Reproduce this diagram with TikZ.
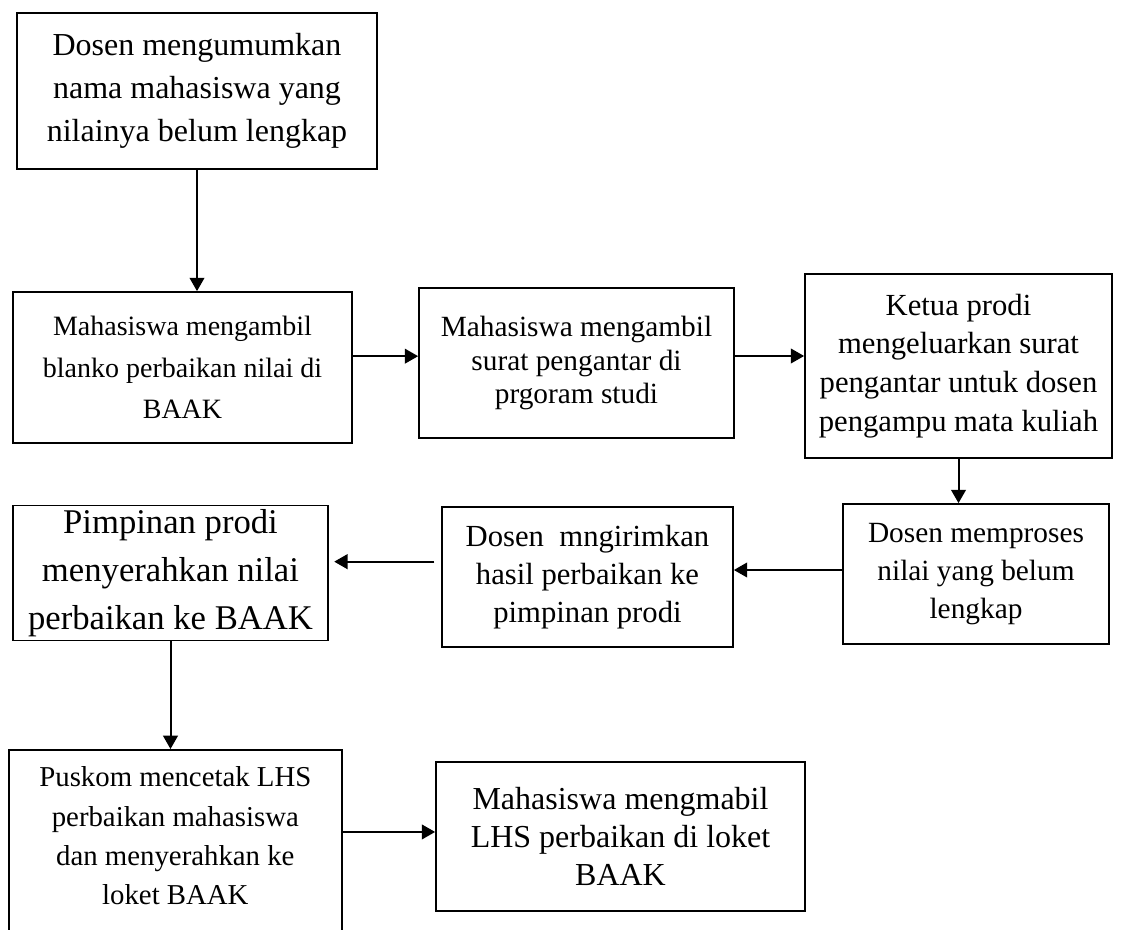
\documentclass[tikz,border=0pt]{standalone}
\usepackage{fontspec}
\setmainfont{Liberation Serif}
\usetikzlibrary{arrows.meta}
\tikzstyle{pixelGrid} = [x = 0.75pt, y = -0.75pt]
\tikzstyle{stepBox} = [draw, line width=1.3pt, align=center, inner sep=0pt]
\tikzstyle{flowArrow} = [line width=1.5pt, -{Triangle[length=10pt, width=11pt]}]
\newcommand{\boxFont}[2]{\fontsize{#1}{#2}\selectfont}

\begin{document}
\begin{tikzpicture}[pixelGrid]
  \clip (0,0) rectangle (1123,930);
  \fill[white] (0,0) rectangle (1123,930);

  % steps
  \node[stepBox, minimum width=270pt, minimum height=117pt, font=\boxFont{24}{32}] (announceNames) at (197,91) {Dosen mengumumkan\\nama mahasiswa yang\\nilainya belum lengkap};
  \node[stepBox, minimum width=254.25pt, minimum height=113.25pt, font=\boxFont{21}{31}] (takeForm) at (182.5,367.5) {Mahasiswa mengambil\\blanko perbaikan nilai di\\BAAK};
  \node[stepBox, minimum width=236.25pt, minimum height=112.5pt, font=\boxFont{22}{25}] (takeLetter) at (576.5,363) {Mahasiswa mengambil\\surat pengantar di\\prgoram studi};
  \node[stepBox, minimum width=230.25pt, minimum height=138pt, font=\boxFont{23}{29}] (issueLetter) at (958.5,366) {Ketua prodi\\mengeluarkan surat\\pengantar untuk dosen\\pengampu mata kuliah};
  \node[stepBox, minimum width=199.5pt, minimum height=105pt, font=\boxFont{22}{28.5}] (processGrade) at (976,574) {Dosen memproses\\nilai yang belum\\lengkap};
  \node[stepBox, minimum width=218.25pt, minimum height=105pt, font=\boxFont{23}{28.5}] (sendResult) at (587.5,577) {Dosen\ \ mngirimkan\\hasil perbaikan ke\\pimpinan prodi};
  \node[stepBox, minimum width=236.25pt, minimum height=101.25pt, font=\boxFont{26}{36}] (submitGrade) at (170.5,573) {Pimpinan prodi\\menyerahkan nilai\\perbaikan ke BAAK};
  \node[stepBox, anchor=north west, minimum width=249.75pt, inner ysep=12.75pt, font=\boxFont{21.6}{29.5}] (printLhs) at (8,749) {Puskom mencetak LHS\\perbaikan mahasiswa\\dan menyerahkan ke\\loket BAAK\rule[-40pt]{0pt}{40pt}};
  \node[stepBox, minimum width=276.75pt, minimum height=111.75pt, font=\boxFont{24}{28.5}] (collectLhs) at (620.5,836.5) {Mahasiswa mengmabil\\LHS perbaikan di loket\\BAAK};

  % arrows
  \draw[flowArrow] (announceNames.south) -- (announceNames.south |- takeForm.north);
  \draw[flowArrow] ([yshift=8.5pt]takeForm.east) -- ([yshift=8.5pt]takeForm.east -| takeLetter.west);
  \draw[flowArrow] ([yshift=5.25pt]takeLetter.east) -- ([yshift=5.25pt]takeLetter.east -| issueLetter.west);
  \draw[flowArrow] (issueLetter.south) -- (issueLetter.south |- processGrade.north);
  \draw[flowArrow] ([yshift=3pt]processGrade.west) -- ([yshift=3pt]processGrade.west -| sendResult.east);
  \draw[flowArrow, shorten <=5pt, shorten >=4pt] ([yshift=11.5pt]sendResult.west) -- ([yshift=11.5pt]sendResult.west -| submitGrade.east);
  \draw[flowArrow] (submitGrade.south) -- (submitGrade.south |- printLhs.north);
  \draw[flowArrow] ([yshift=3.4pt]collectLhs.west -| printLhs.east) -- ([yshift=3.4pt]collectLhs.west);
\end{tikzpicture}
\end{document}
